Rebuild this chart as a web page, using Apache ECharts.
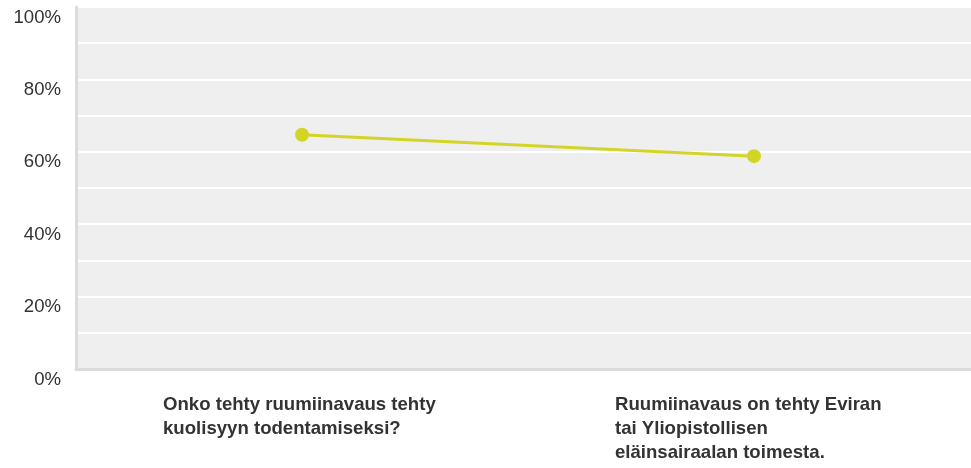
<!DOCTYPE html>
<html>
<head>
<meta charset="utf-8">
<script src="https://cdn.jsdelivr.net/npm/echarts@6/dist/echarts.min.js"></script>
<style>
html,body{margin:0;padding:0;background:#fff;}
#c{width:971px;height:468px;}
</style>
</head>
<body>
<div id="c"></div>
<script>
var categories = [
  ["Onko tehty ruumiinavaus tehty", "kuolisyyn todentamiseksi?"],
  ["Ruumiinavaus on tehty Eviran", "tai Yliopistollisen", "eläinsairaalan toimesta."]
];
var values = [64.7, 58.8];
var yTicks = [0, 20, 40, 60, 80, 100];

var chart = echarts.init(document.getElementById('c'), null, {renderer: 'canvas'});
chart.setOption({
  animation: false,
  grid: {
    left: 76, right: -9, top: 7, bottom: 99,
    show: true, backgroundColor: '#efefef', borderWidth: 0,
    containLabel: false, outerBoundsMode: 'none'
  },
  xAxis: {
    type: 'category',
    data: categories.map(function (l) { return l.join('\n'); }),
    boundaryGap: true,
    axisLine: {show: true, lineStyle: {color: '#dcdcdc', width: 3}},
    axisTick: {show: false},
    splitLine: {show: false},
    axisLabel: {
      interval: 0,
      margin: 24,
      formatter: function (v) {
        return v.split('\n').map(function (s) { return '{a|' + s + '}'; }).join('\n');
      },
      rich: {
        a: {
          width: 278, align: 'left',
          fontFamily: 'Liberation Sans, Arial, sans-serif',
          fontSize: 18.6, fontWeight: 'bold', color: '#333333', lineHeight: 24
        }
      }
    }
  },
  yAxis: {
    type: 'value',
    min: 0, max: 100, interval: 10,
    axisLine: {show: true, lineStyle: {color: '#dcdcdc', width: 3}},
    axisTick: {show: false},
    splitLine: {show: true, lineStyle: {color: '#ffffff', width: 2}},
    axisLabel: {
      margin: 15,
      verticalAlign: 'top',
      padding: [1, 0, 0, 0],
      fontFamily: 'Liberation Sans, Arial, sans-serif',
      fontSize: 18.6, color: '#333333',
      formatter: function (v) { return yTicks.indexOf(v) >= 0 ? v + '%' : ''; }
    }
  },
  series: [{
    type: 'line',
    data: values,
    symbol: 'circle',
    symbolSize: 14,
    lineStyle: {color: '#d3d526', width: 3},
    itemStyle: {color: '#d3d526'},
    label: {show: false}
  }]
});
</script>
</body>
</html>
